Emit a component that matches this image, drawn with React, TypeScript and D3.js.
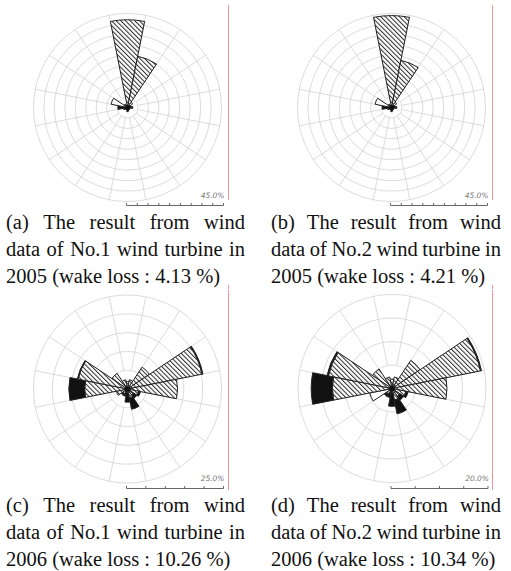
import React, { useMemo } from "react";
import * as d3 from "d3";

const DIRECTIONS = ["N", "NNE", "NE", "ENE", "E", "ESE", "SE", "SSE", "S", "SSW", "SW", "WSW", "W", "WNW", "NW", "NNW"];

// Frequencies (%) by speed class, stacked from the centre: white, hatched, black
const A_WHITE = [0, 0, 3, 1.5, 0, 0, 0, 0, 0, 0, 0, 0, 0, 8, 2, 0];
const A_HATCH = [42, 25, 0, 0, 0, 0, 0, 0, 0, 0, 0, 0, 0, 0, 0, 1];
const A_BLACK = [0, 0, 0, 0, 2.5, 1, 1, 1.5, 2, 1, 1, 2, 4.6, 0, 0, 0];

const B_WHITE = [0, 0, 3, 1.5, 0, 0, 0, 0, 0, 0, 0, 0, 0, 8, 2, 0];
const B_HATCH = [44, 23, 0, 0, 0, 0, 0, 0, 0, 0, 0, 0, 0, 0, 0, 1];
const B_BLACK = [0, 0, 0, 0, 2.5, 1, 1, 1.5, 2, 1, 1, 2, 4.5, 0, 0, 0];

const C_WHITE = [0, 0, 0, 0, 0, 0, 0, 1, 1, 0, 0, 0, 0, 0, 0, 0];
const C_HATCH = [2, 2.5, 7, 20.2, 13.3, 3, 2, 1.5, 0, 0, 1.5, 3, 11.4, 13.4, 5, 2.5];
const C_BLACK = [0, 0, 0, 0.25, 0, 0.5, 1, 3, 2.5, 2, 0.5, 0, 4.2, 0.2, 0, 0];

const D_WHITE = [0, 0, 0, 0, 0, 0, 0, 1, 1, 0, 0, 4.8, 0, 0, 0, 0];
const D_HATCH = [2, 2.5, 7.2, 19.2, 11.7, 3, 2, 1.5, 0, 0, 1.5, 0, 12.7, 13.8, 5, 2.5];
const D_BLACK = [0, 0, 0, 0.2, 0, 0.5, 1, 3, 2.8, 2, 0.5, 0, 4.5, 0.3, 0, 0];

const SCALE_MAX = [45, 45, 25, 20];
const RING_COUNT = [9, 9, 5, 4];
const SCALE_LABELS = ["45.0%", "45.0%", "25.0%", "20.0%"];

const CAPTIONS = [
  ["(a) The result from wind", "data of No.1 wind turbine in", "2005 (wake loss : 4.13 %)"],
  ["(b) The result from wind", "data of No.2 wind turbine in", "2005 (wake loss : 4.21 %)"],
  ["(c) The result from wind", "data of No.1 wind turbine in", "2006 (wake loss : 10.26 %)"],
  ["(d) The result from wind", "data of No.2 wind turbine in", "2006 (wake loss : 10.34 %)"],
];

const W = 511;
const H = 571;
const R = 94;
const CENTERS = [
  [127.5, 107.5],
  [391.5, 107.5],
  [127.5, 389],
  [392, 388.5],
];
const CAP_FONT = 20.5;
const CAP_FAMILY = "'Liberation Serif', 'Times New Roman', serif";

let measureCtx: CanvasRenderingContext2D | null = null;
function measure(text: string): number {
  if (!measureCtx) {
    const c = document.createElement("canvas");
    measureCtx = c.getContext("2d");
  }
  if (!measureCtx) return text.length * CAP_FONT * 0.45;
  measureCtx.font = `${CAP_FONT}px 'Liberation Serif'`;
  return measureCtx.measureText(text).width;
}

function Caption({ lines, x0, x1, baselines }: { lines: string[]; x0: number; x1: number; baselines: number[] }) {
  return (
    <g fontFamily={CAP_FAMILY} fontSize={CAP_FONT} fill="#111">
      {lines.map((line, li) => {
        const words = line.split(" ");
        if (li === lines.length - 1) {
          return (
            <text key={li} x={x0} y={baselines[li]} style={{ whiteSpace: "pre" }}>
              {line}
            </text>
          );
        }
        const widths = words.map((w) => measure(w));
        const total = widths.reduce((a, b) => a + b, 0);
        const gap = (x1 - x0 - total) / (words.length - 1);
        let x = x0;
        const xs: number[] = [];
        widths.forEach((w) => {
          xs.push(x);
          x += w + gap;
        });
        return (
          <text key={li} y={baselines[li]}>
            {words.map((w, wi) => (
              <tspan key={wi} x={xs[wi]}>
                {w}
              </tspan>
            ))}
          </text>
        );
      })}
    </g>
  );
}

function Rose({
  idx,
  white,
  hatch,
  black,
}: {
  idx: number;
  white: number[];
  hatch: number[];
  black: number[];
}) {
  const [cx, cy] = CENTERS[idx];
  const max = SCALE_MAX[idx];
  const rings = RING_COUNT[idx];
  const r = useMemo(() => d3.scaleLinear().domain([0, max]).range([0, R]), [max]);
  const step = max / rings;
  const ringVals = d3.range(1, rings + 1).map((k) => k * step);
  const half = Math.PI / 16;
  const spokeAngles = d3.range(16).map((k) => (k * Math.PI) / 8 + half);
  const arc = d3.arc<any>();
  const segs: { d: string; fill: string }[] = [];
  DIRECTIONS.forEach((_, i) => {
    const a = (i * Math.PI) / 8;
    let acc = 0;
    const parts: [number, string][] = [
      [white[i], "#fff"],
      [hatch[i], `url(#hatch${idx})`],
      [black[i], "#111"],
    ];
    parts.forEach(([v, fill]) => {
      if (v > 0) {
        const d = arc({
          innerRadius: r(acc),
          outerRadius: r(acc + v),
          startAngle: a - half,
          endAngle: a + half,
        }) as string;
        segs.push({ d, fill });
        acc += v;
      }
    });
  });
  const barX = d3.scaleLinear().domain([0, max]).range([cx - 1, cx + R + 2]);
  const barY = idx < 2 ? 205.5 : 488.5;
  const ticks = d3.range(0, rings + 1).map((k) => k * step);
  const sp = 3.3;
  return (
    <g>
      <defs>
        <pattern id={`hatch${idx}`} patternUnits="userSpaceOnUse" width={sp} height={sp} patternTransform="rotate(-45)">
          <rect width={sp} height={sp} fill="#fff" />
          <line x1={0.5} y1={0} x2={0.5} y2={sp} stroke="#2a2a2a" strokeWidth={1} />
        </pattern>
      </defs>
      <g transform={`translate(${cx},${cy})`}>
        {ringVals.map((v, i) => (
          <circle key={i} r={r(v)} fill="none" stroke="#d2d2d2" strokeWidth={0.8} />
        ))}
        {spokeAngles.map((a, i) => (
          <line
            key={i}
            x1={r(step) * Math.sin(a)}
            y1={-r(step) * Math.cos(a)}
            x2={R * Math.sin(a)}
            y2={-R * Math.cos(a)}
            stroke="#d2d2d2"
            strokeWidth={0.8}
          />
        ))}
        {segs.map((s, i) => (
          <path key={i} d={s.d} fill={s.fill} stroke="#222" strokeWidth={1} strokeLinejoin="round" />
        ))}
        <circle r={2.8} fill="#111" />
      </g>
      <line x1={barX(0)} x2={barX(max)} y1={barY} y2={barY} stroke="#666" strokeWidth={1} />
      {ticks.map((t, i) => (
        <line key={i} x1={barX(t)} x2={barX(t)} y1={barY} y2={barY - 2.5} stroke="#666" strokeWidth={1} />
      ))}
      <text
        x={barX(max) + 1}
        y={barY - 7.5}
        textAnchor="end"
        fontFamily="'DejaVu Sans', sans-serif"
        fontSize={7.5}
        fontStyle="italic"
        fill="#777"
      >
        {SCALE_LABELS[idx]}
      </text>
    </g>
  );
}

export default function App() {
  return (
    <svg width={W} height={H} style={{ position: "absolute", left: 0, top: 0, background: "#fff" }}>
      <rect width={W} height={H} fill="#fff" />
      {/* red frame edges */}
      <line x1={228.5} x2={228.5} y1={5} y2={200} stroke="#f29494" strokeWidth={1} />
      <line x1={492.5} x2={492.5} y1={5} y2={200} stroke="#f29494" strokeWidth={1} />
      <line x1={228.5} x2={228.5} y1={285} y2={289} stroke="#f29494" strokeWidth={1} />
      <line x1={492.5} x2={492.5} y1={285} y2={289} stroke="#f29494" strokeWidth={1} />
      <line x1={228.5} x2={228.5} y1={290} y2={490} stroke="#f29494" strokeWidth={1} />
      <line x1={492.5} x2={492.5} y1={290} y2={490} stroke="#f29494" strokeWidth={1} />

      <Rose idx={0} white={A_WHITE} hatch={A_HATCH} black={A_BLACK} />
      <Rose idx={1} white={B_WHITE} hatch={B_HATCH} black={B_BLACK} />
      <Rose idx={2} white={C_WHITE} hatch={C_HATCH} black={C_BLACK} />
      <Rose idx={3} white={D_WHITE} hatch={D_HATCH} black={D_BLACK} />

      <Caption lines={CAPTIONS[0]} x0={6} x1={245} baselines={[229, 256, 283]} />
      <Caption lines={CAPTIONS[1]} x0={271} x1={501} baselines={[229, 256, 283]} />
      <Caption lines={CAPTIONS[2]} x0={6} x1={245} baselines={[512, 539, 566]} />
      <Caption lines={CAPTIONS[3]} x0={271} x1={501} baselines={[512, 539, 566]} />
    </svg>
  );
}
